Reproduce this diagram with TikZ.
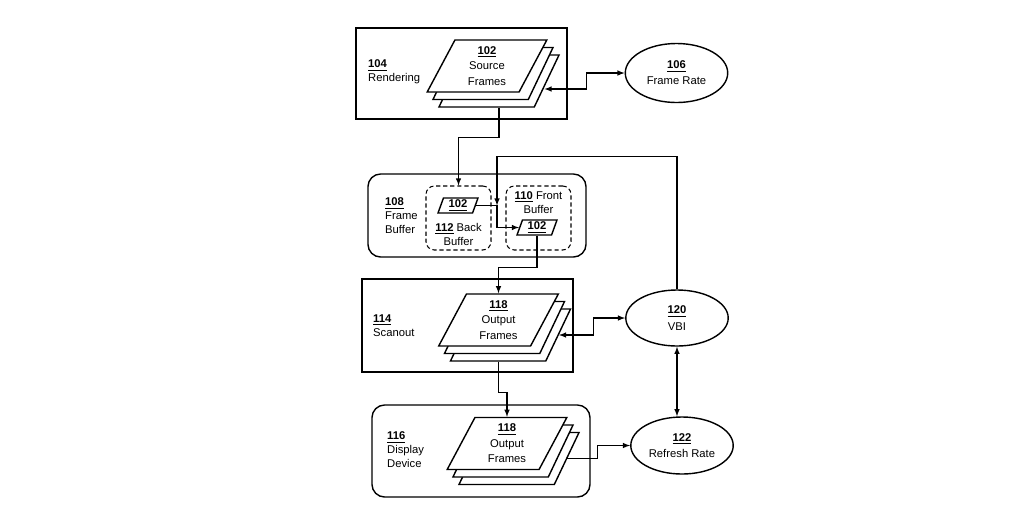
\documentclass[tikz,border=0pt]{standalone}
\usepackage{fontspec}
\setmainfont{Liberation Sans}
\usetikzlibrary{shapes.geometric,calc}
\newcommand{\refnum}[1]{\textbf{\underline{#1}}}

\begin{document}
\begin{tikzpicture}[x=0.025cm,y=-0.025cm,>=latex,line width=0.75pt,
    font=\fontsize{8}{10}\selectfont,
    unitbox/.style={draw, line width=1pt, rectangle, inner sep=0pt},
    roundbox/.style={draw, line width=1pt, rectangle, rounded corners=9pt, inner sep=0pt},
    bufbox/.style={draw, dash pattern=on 3pt off 2pt, rectangle, rounded corners=6pt,
        minimum width=1.625cm, minimum height=1.6cm, inner sep=0pt},
    sheet/.style={draw, line width=1pt, fill=white, trapezium, trapezium left angle=67,
        trapezium right angle=113, trapezium stretches=true, minimum width=3cm,
        minimum height=1.3cm, inner sep=0pt, align=center,
        font=\fontsize{8}{11}\selectfont},
    minisheet/.style={sheet, trapezium left angle=72, trapezium right angle=108,
        minimum width=1cm, minimum height=0.375cm},
    rate/.style={draw, line width=1pt, ellipse, minimum width=2.56cm, inner sep=0pt,
        align=center, font=\fontsize{8}{11.5}\selectfont}]
    \useasboundingbox (0,0) rectangle (1024,528);

    % rendering
    \node[unitbox, minimum width=5.275cm, minimum height=2.275cm] (rend) at (461.5,73.5) {};
    \node[anchor=west, align=left] (rendlbl) at (363,72) {\refnum{104}\\Rendering};
    \foreach \d in {2,1}
        \node[sheet] (src\d) at (487+6*\d,66+7.5*\d) {\phantom{M}};
    \node[sheet] (src) at (487,66) {\refnum{102}\\Source\\Frames};
    \node[rate, minimum height=1.475cm] (rate) at (676.5,73) {\refnum{106}\\Frame Rate};

    % frame buffer
    \node[roundbox, minimum width=5.45cm, minimum height=2.075cm] (fb) at (477,215.5) {};
    \node[anchor=west, align=left] (fblbl) at (380,216) {\refnum{108}\\Frame\\Buffer};
    \node[bufbox] (back) at (458.5,218) {};
    \node[bufbox] (front) at (538.5,218) {};
    \node[minisheet] (bsheet) at (458,205.5) {\refnum{102}};
    \node[minisheet] (fsheet) at (537,227.5) {\refnum{102}};
    \node[anchor=south, align=center] (backlbl) at (back.south) {\refnum{112} Back\\Buffer};
    \node[anchor=north, align=center] (frontlbl) at ($(front.north)+(0,1)$) {\refnum{110} Front\\Buffer};

    % scanout
    \node[unitbox, minimum width=5.275cm, minimum height=2.325cm] (scan) at (467.5,325.5) {};
    \node[anchor=west, align=left] (scanlbl) at (368,326) {\refnum{114}\\Scanout};
    \foreach \d in {2,1}
        \node[sheet] (out\d) at (498.5+6*\d,320+7.5*\d) {\phantom{M}};
    \node[sheet] (out) at (498.5,320) {\refnum{118}\\Output\\Frames};
    \node[rate, minimum height=1.4cm] (vbi) at (677,318) {\refnum{120}\\VBI};

    % display device
    \node[roundbox, minimum width=5.45cm, minimum height=2.3cm] (disp) at (481,451) {};
    \node[anchor=west, align=left] (displbl) at (382,450) {\refnum{116}\\Display\\Device};
    \foreach \d in {2,1}
        \node[sheet] (dout\d) at (507+6*\d,443.5+7.5*\d) {\phantom{M}};
    \node[sheet] (dout) at (507,443.5) {\refnum{118}\\Output\\Frames};
    \node[rate, minimum height=1.425cm] (refresh) at (682,445.5) {\refnum{122}\\Refresh Rate};

    % connectors
    \coordinate (junc) at ($(bsheet.east)+(21,0)$);
    \draw[->] (src2.south) -- ++(0,30) -| (back.north);
    \draw[<->] ($(src2.east)+(-3,8)$) -- ++(42,0) |- (rate.west);
    \draw[->] (bsheet.east) -- (junc) |- (fsheet.west);
    \draw[->] (vbi.north) -- ++(0,-133) -| (junc);
    \draw[->] (fsheet.south) -- ++(0,32) -| (out.north);
    \draw[<->] (out2.east) -- ++(35,0) |- (vbi.west);
    \draw[->] (out |- out2.south) -- ++(0,31) -| (dout.north);
    \draw[->] (dout2.east) -- ++(30,0) |- (refresh.west);
    \draw[<->] (vbi.south) -- (vbi.south |- refresh.north);
\end{tikzpicture}
\end{document}
